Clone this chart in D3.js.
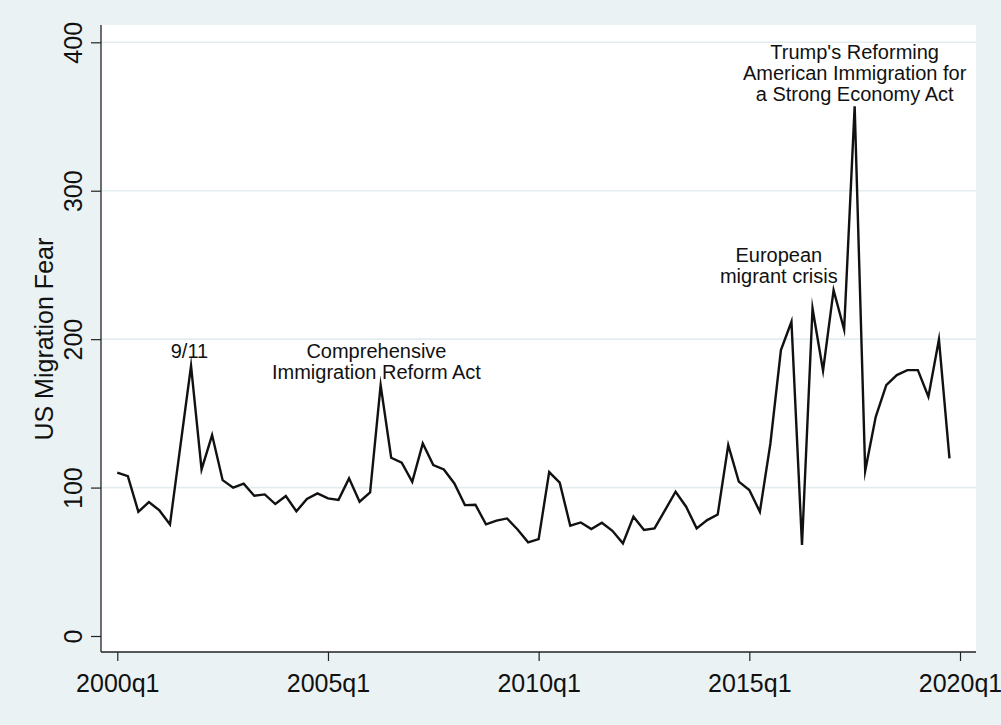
<!DOCTYPE html>
<html>
<head>
<meta charset="utf-8">
<script src="https://cdn.jsdelivr.net/npm/d3@7"></script>
<style>
  html, body { margin: 0; padding: 0; background: #eaf2f3; }
  svg { display: block; font-family: "Liberation Sans", Arial, sans-serif; }
</style>
</head>
<body>
<svg id="chart" width="1001" height="725"></svg>
<script>
// Quarterly series, 2000q1 .. 2019q4
const startYear = 2000;
const fearValues = [
  110.0, 107.7, 83.7, 90.2, 84.6, 75.2, 128.6, 182.0,
  112.2, 135.4, 105.0, 99.9, 102.6, 94.5, 95.4, 88.9,
  94.3, 84.0, 92.3, 96.1, 92.7, 91.7, 106.2, 90.5,
  96.7, 169.0, 120.1, 116.7, 103.9, 129.7, 115.2, 112.2,
  102.8, 88.2, 88.4, 75.2, 77.7, 79.2, 71.8, 63.1,
  65.3, 110.4, 103.3, 74.3, 76.5, 72.1, 76.3, 70.9,
  62.4, 80.4, 71.4, 72.5, 84.8, 97.2, 87.1, 72.5,
  78.1, 81.9, 128.6, 104.0, 98.3, 83.7, 129.7, 192.6,
  211.7, 61.3, 220.7, 178.7, 233.0, 206.5, 356.9, 111.3,
  147.7, 169.0, 175.8, 179.1, 179.1, 161.2, 199.8, 119.7
];
const quarters = fearValues.map((_, i) => `${startYear + Math.floor(i / 4)}q${(i % 4) + 1}`);

const xTickIndex = [0, 20, 40, 60, 80];
const xTickLabels = ["2000q1", "2005q1", "2010q1", "2015q1", "2020q1"];
const yTicks = [0, 100, 200, 300, 400];
const yTitle = "US Migration Fear";

// Event notes: anchor in data units (quarter index, value), lines of text
const noteText = [
  ["9/11"],
  ["Comprehensive", "Immigration Reform Act"],
  ["European", "migrant crisis"],
  ["Trump's Reforming", "American Immigration for", "a Strong Economy Act"]
];
const noteAt = [6.85, 24.6, 62.8, 70.0];
const noteValue = [187, 187, 252, 389];

const svg = d3.select("#chart");
const W = 1001, H = 725;
const region = { left: 101, right: 976, top: 25, bottom: 652 };

svg.append("rect").attr("width", W).attr("height", H).attr("fill", "#eaf2f3");
svg.append("rect")
  .attr("x", region.left).attr("y", region.top)
  .attr("width", region.right - region.left)
  .attr("height", region.bottom - region.top)
  .attr("fill", "#ffffff");

const x = d3.scaleLinear().domain([0, 80]).range([117.3, 960]);
const y = d3.scaleLinear().domain([0, 400]).range([636, 42.3]);

// horizontal grid
svg.append("g").selectAll("line")
  .data(yTicks.filter(t => t > 0))
  .join("line")
  .attr("x1", region.left).attr("x2", region.right)
  .attr("y1", d => y(d)).attr("y2", d => y(d))
  .attr("stroke", "#e3edf0").attr("stroke-width", 1.6);

// series line
const line = d3.line().x((d, i) => x(i)).y(d => y(d));
svg.append("path")
  .datum(fearValues)
  .attr("d", line)
  .attr("fill", "none")
  .attr("stroke", "#111")
  .attr("stroke-width", 2.4)
  .attr("stroke-linejoin", "miter")
  .attr("stroke-miterlimit", 10);

// y axis
const yAxis = svg.append("g")
  .attr("transform", `translate(${region.left},0)`)
  .call(d3.axisLeft(y).tickValues(yTicks).tickSize(10).tickSizeOuter(0));
yAxis.select(".domain").remove();
yAxis.selectAll(".tick line").attr("stroke", "#222").attr("stroke-width", 1.2);
yAxis.selectAll(".tick text")
  .attr("x", null).attr("dy", null)
  .attr("text-anchor", "middle")
  .attr("transform", "translate(-19,0) rotate(-90)")
  .attr("font-size", 25)
  .attr("fill", "#111");

// x axis
const xAxis = svg.append("g")
  .attr("transform", `translate(0,${region.bottom})`)
  .call(d3.axisBottom(x).tickValues(xTickIndex)
    .tickFormat((d, i) => xTickLabels[i])
    .tickSize(9).tickPadding(13).tickSizeOuter(0));
xAxis.select(".domain").remove();
xAxis.selectAll(".tick line").attr("stroke", "#222").attr("stroke-width", 1.2);
xAxis.selectAll(".tick text").attr("font-size", 25).attr("fill", "#111");

// axis lines
svg.append("line")
  .attr("x1", region.left).attr("x2", region.left)
  .attr("y1", region.top).attr("y2", region.bottom)
  .attr("stroke", "#222").attr("stroke-width", 1.3);
svg.append("line")
  .attr("x1", region.left).attr("x2", region.right)
  .attr("y1", region.bottom).attr("y2", region.bottom)
  .attr("stroke", "#222").attr("stroke-width", 1.3);

// y title
svg.append("text")
  .attr("transform", `translate(53,${(y(0) + y(400)) / 2}) rotate(-90)`)
  .attr("text-anchor", "middle")
  .attr("font-size", 25)
  .attr("fill", "#111")
  .text(yTitle);

// event notes
const notes = svg.append("g").attr("font-size", 20).attr("fill", "#111").attr("text-anchor", "middle");
noteText.forEach((lines, k) => {
  const t = notes.append("text")
    .attr("x", x(noteAt[k]))
    .attr("y", y(noteValue[k]));
  lines.forEach((s, j) => {
    t.append("tspan")
      .attr("x", x(noteAt[k]))
      .attr("dy", j === 0 ? 0 : 21)
      .text(s);
  });
});
</script>
</body>
</html>
